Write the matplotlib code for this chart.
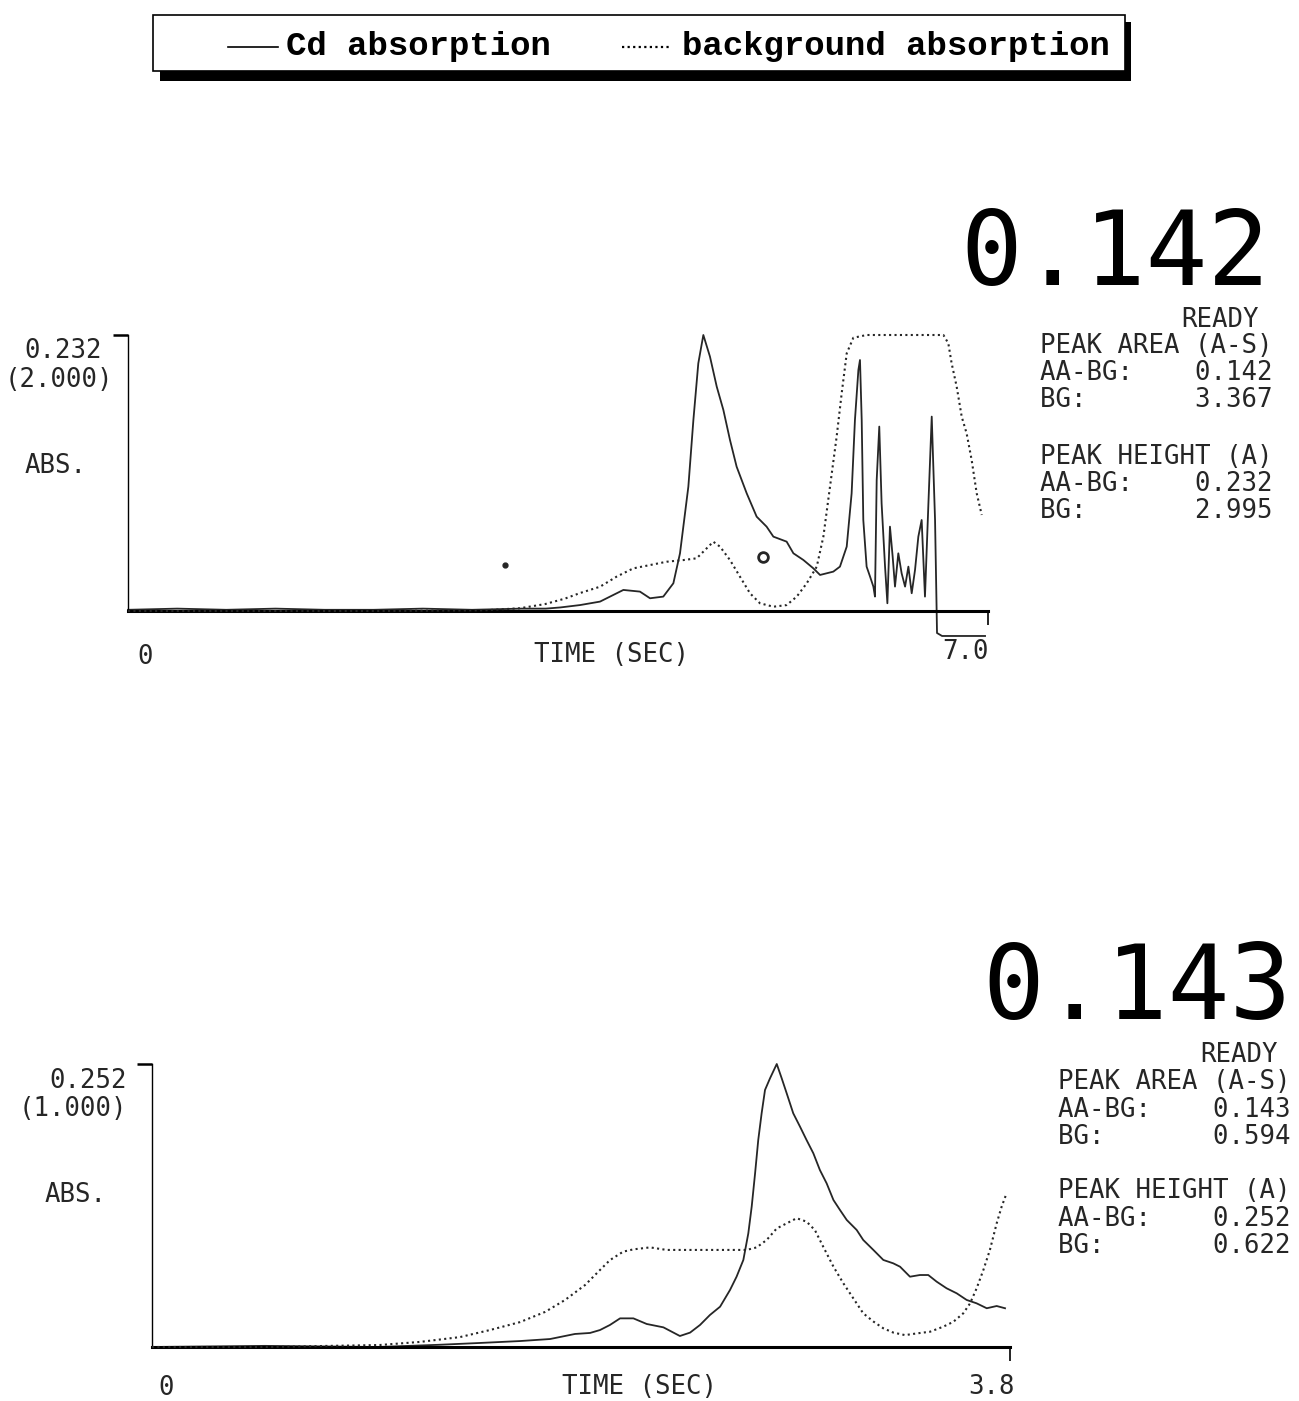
import matplotlib
matplotlib.use("Agg")
from matplotlib import pyplot as plt
from matplotlib.patches import Rectangle
from matplotlib.lines import Line2D

W, H = 1299, 1401

# run 1: time (s), Cd absorbance (A), background absorbance (A)
cd1_t = [0.0, 0.4, 0.8, 1.2, 1.6, 2.0, 2.4, 2.8, 3.2, 3.4, 3.52, 3.68, 3.842,
         4.032, 4.167, 4.249, 4.357, 4.439, 4.493, 4.561, 4.602, 4.642, 4.683,
         4.737, 4.792, 4.846, 4.900, 4.954, 5.036, 5.117, 5.198, 5.253, 5.361,
         5.416, 5.497, 5.578, 5.633, 5.741, 5.795, 5.850, 5.890, 5.917, 5.945,
         5.958, 5.972, 5.985, 6.012, 6.040, 6.067, 6.080, 6.094, 6.115, 6.134,
         6.162, 6.181, 6.202, 6.224, 6.243, 6.270, 6.297, 6.325, 6.352, 6.379,
         6.406, 6.433, 6.460, 6.487, 6.514, 6.542, 6.555, 6.569, 6.582,
         6.585, 6.626, 6.976]
cd1_a = [0.001, 0.002, 0.001, 0.002, 0.001, 0.001, 0.002, 0.001, 0.002, 0.002,
         0.003, 0.005, 0.0079,
         0.0177, 0.0163, 0.0107, 0.0121, 0.0233, 0.0485, 0.1045, 0.1606, 0.2082, 0.232,
         0.2138, 0.1886, 0.1690, 0.1437, 0.1213, 0.0989, 0.0793, 0.0709, 0.0625, 0.0583,
         0.0485, 0.0429, 0.0359, 0.0303, 0.0331, 0.0373, 0.0541, 0.0989, 0.1606, 0.2026,
         0.2110, 0.1606, 0.0765, 0.0373, 0.0289, 0.0205, 0.0121, 0.1101, 0.1550, 0.0905,
         0.0373, 0.0065, 0.0709, 0.0457, 0.0205, 0.0485, 0.0317, 0.0205, 0.0373, 0.0149,
         0.0345, 0.0625, 0.0765, 0.0121, 0.0877, 0.1634, 0.1213, 0.0765, 0.0,
         -0.0185, -0.021, -0.021]
bg1_t = [0.0, 1.0, 2.0, 2.9, 3.19, 3.394, 3.557, 3.679, 3.842, 3.977, 4.113,
         4.249, 4.384, 4.520, 4.629, 4.710, 4.764, 4.819, 4.900, 4.981, 5.063,
         5.144, 5.253, 5.361, 5.443, 5.524, 5.606, 5.660, 5.714, 5.768, 5.809,
         5.850, 5.904, 6.012, 6.637, 6.677, 6.704, 6.745, 6.786, 6.826, 6.867,
         6.908, 6.949]
bg1_b = [0.0, 0.0, 0.0, 0.005, 0.02, 0.05, 0.09, 0.13, 0.176, 0.249, 0.309,
         0.333, 0.357, 0.369, 0.382, 0.454, 0.502, 0.466, 0.369, 0.249, 0.128,
         0.056, 0.031, 0.043, 0.104, 0.200, 0.321, 0.539, 0.901, 1.263, 1.577,
         1.867, 1.98, 2.0, 2.0, 1.940, 1.795, 1.626, 1.408, 1.287, 1.094,
         0.853, 0.696]
# stray printer marks on run 1
spots1_t = [3.069, 5.169]
spots1_a = [0.0387, 0.0454]

# run 2
cd2_t = [0.0, 0.5, 1.0, 1.275, 1.453, 1.630, 1.763, 1.873, 1.940, 1.984, 2.028,
         2.073, 2.132, 2.191, 2.265, 2.338, 2.383, 2.427, 2.471, 2.516, 2.560,
         2.589, 2.619, 2.641, 2.656, 2.671, 2.685, 2.700, 2.715, 2.737, 2.767,
         2.789, 2.811, 2.840, 2.870, 2.899, 2.929, 2.958, 2.988, 3.018, 3.047,
         3.077, 3.121, 3.150, 3.195, 3.239, 3.283, 3.313, 3.357, 3.401, 3.438,
         3.475, 3.519, 3.564, 3.608, 3.652, 3.697, 3.741, 3.778]
cd2_a = [0.0, 0.001, 0.0, 0.002, 0.0036, 0.0053, 0.0071, 0.0116, 0.0125, 0.0151,
         0.0196, 0.0255, 0.0255, 0.0205, 0.0175, 0.0098, 0.0128, 0.0196, 0.0285,
         0.0359, 0.0508, 0.0626, 0.0775, 0.1012, 0.1250, 0.1546, 0.1843, 0.2081,
         0.2289, 0.2392, 0.252, 0.2392, 0.2259, 0.2081, 0.1962, 0.1843, 0.1725,
         0.1576, 0.1457, 0.1309, 0.1220, 0.1131, 0.1042, 0.0953, 0.0864, 0.0775,
         0.0745, 0.0715, 0.0626, 0.0641, 0.0641, 0.0582, 0.0523, 0.0478, 0.0419,
         0.0389, 0.0345, 0.0365, 0.0345]
bg2_t = [0.0, 0.5, 1.008, 1.187, 1.364, 1.497, 1.630, 1.741, 1.829, 1.918,
         1.984, 2.028, 2.087, 2.132, 2.206, 2.279, 2.427, 2.545, 2.634, 2.678,
         2.722, 2.767, 2.811, 2.855, 2.899, 2.936, 2.973, 3.018, 3.062, 3.106,
         3.150, 3.195, 3.239, 3.283, 3.335, 3.387, 3.446, 3.505, 3.549, 3.593,
         3.623, 3.652, 3.682, 3.711, 3.741, 3.763, 3.782]
bg2_b = [0.0, 0.0, 0.007, 0.018, 0.035, 0.060, 0.088, 0.124, 0.166, 0.219,
         0.272, 0.307, 0.337, 0.345, 0.352, 0.343, 0.343, 0.343, 0.343, 0.352,
         0.378, 0.419, 0.437, 0.455, 0.443, 0.413, 0.354, 0.284, 0.225, 0.172,
         0.119, 0.090, 0.066, 0.051, 0.042, 0.048, 0.054, 0.072, 0.089, 0.119,
         0.154, 0.207, 0.272, 0.343, 0.437, 0.496, 0.537]

# instrument readouts
runs = [
    {"big": "0.142", "cd_scale": 0.232, "bg_scale": 2.000, "tmax": 7.0,
     "area": ("0.142", "3.367"), "height": ("0.232", "2.995")},
    {"big": "0.143", "cd_scale": 0.252, "bg_scale": 1.000, "tmax": 3.8,
     "area": ("0.143", "0.594"), "height": ("0.252", "0.622")},
]

MONO = "DejaVu Sans Mono"
INK = "#262626"
FS = 18.5

fig = plt.figure(figsize=(W / 100, H / 100), dpi=100)


def ftext(x, y, s, **kw):
    # place text using pixel positions of the page
    kw.setdefault("family", MONO)
    kw.setdefault("color", INK)
    kw.setdefault("va", "center")
    kw.setdefault("fontsize", FS)
    fig.text(x / W, 1 - y / H, s, **kw)


def make_axes(left, right, top, bottom, run):
    ax = fig.add_axes([left / W, 1 - bottom / H, (right - left) / W, (bottom - top) / H])
    ax.set_xlim(0, run["tmax"])
    ax.set_ylim(0, run["cd_scale"])
    for s in ["top", "right"]:
        ax.spines[s].set_visible(False)
    ax.spines["left"].set_linewidth(1.0)
    ax.spines["left"].set_linestyle((0, (6, 1)))
    ax.spines["bottom"].set_linewidth(2.2)
    ax.set_yticks([run["cd_scale"]])
    ax.set_xticks([run["tmax"]])
    ax.tick_params(axis="y", length=11, width=1.8, direction="out", labelleft=False)
    ax.tick_params(axis="x", length=10, width=1.2, direction="out", labelbottom=False)
    ax.patch.set_visible(False)
    bx = ax.twinx()
    bx.set_ylim(0, run["bg_scale"])
    bx.axis("off")
    return ax, bx


# ---- legend box
fig.patches.append(Rectangle((160 / W, 1 - 81 / H), 971 / W, 59 / H,
                             transform=fig.transFigure, facecolor="black", zorder=1))
fig.patches.append(Rectangle((153 / W, 1 - 71 / H), 972 / W, 56 / H,
                             transform=fig.transFigure, facecolor="white",
                             edgecolor="black", linewidth=1.2, zorder=2))
fig.lines.append(Line2D([228 / W, 278 / W], [1 - 47 / H] * 2, transform=fig.transFigure,
                        color="black", linewidth=1.2, zorder=3))
fig.lines.append(Line2D([622 / W, 672 / W], [1 - 47 / H] * 2, transform=fig.transFigure,
                        color="black", linewidth=1.6, linestyle=(0, (1, 1.5)), zorder=3))
ftext(286, 47, "Cd absorption", family="Liberation Mono", weight="bold",
      fontsize=24.5, color="black", zorder=4)
ftext(682, 47, "background absorption", family="Liberation Mono", weight="bold",
      fontsize=24.5, color="black", zorder=4)

# ---- run 1
ax1, bx1 = make_axes(128, 988, 335, 611, runs[0])
ax1.plot(cd1_t, cd1_a, color=INK, linewidth=1.3, clip_on=False)
bx1.plot(bg1_t, bg1_b, color=INK, linewidth=1.5, linestyle=(0, (1, 1.6)), clip_on=False)
ax1.plot(spots1_t[:1], spots1_a[:1], "o", color=INK, markersize=3.5)
ax1.plot(spots1_t[1:], spots1_a[1:], "o", mfc="white", mec=INK, mew=2, markersize=7)

ftext(102, 351, "0.232", ha="right")
ftext(113, 380, "(2.000)", ha="right")
ftext(25, 466, "ABS.")
ftext(145, 657, "0", ha="center")
ftext(611, 655, "TIME (SEC)", ha="center")
ftext(966, 652, "7.0", ha="center")

ftext(1115, 256, runs[0]["big"], ha="center", fontsize=74, color="black")
ftext(1259, 320, "READY", ha="right")
ftext(1040, 346, "PEAK AREA (A-S)")
ftext(1040, 373, "AA-BG:    " + runs[0]["area"][0])
ftext(1040, 400, "BG:       " + runs[0]["area"][1])
ftext(1040, 457, "PEAK HEIGHT (A)")
ftext(1040, 484, "AA-BG:    " + runs[0]["height"][0])
ftext(1040, 511, "BG:       " + runs[0]["height"][1])

# ---- run 2
ax2, bx2 = make_axes(152, 1010, 1064, 1347, runs[1])
ax2.plot(cd2_t, cd2_a, color=INK, linewidth=1.3, clip_on=False)
bx2.plot(bg2_t, bg2_b, color=INK, linewidth=1.5, linestyle=(0, (1, 1.6)), clip_on=False)

ftext(127, 1081, "0.252", ha="right")
ftext(127, 1109, "(1.000)", ha="right")
ftext(45, 1195, "ABS.")
ftext(166, 1388, "0", ha="center")
ftext(640, 1387, "TIME (SEC)", ha="center")
ftext(992, 1387, "3.8", ha="center")

ftext(1137, 990, runs[1]["big"], ha="center", fontsize=74, color="black")
ftext(1278, 1055, "READY", ha="right")
ftext(1058, 1082, "PEAK AREA (A-S)")
ftext(1058, 1110, "AA-BG:    " + runs[1]["area"][0])
ftext(1058, 1137, "BG:       " + runs[1]["area"][1])
ftext(1058, 1191, "PEAK HEIGHT (A)")
ftext(1058, 1219, "AA-BG:    " + runs[1]["height"][0])
ftext(1058, 1246, "BG:       " + runs[1]["height"][1])

fig.savefig("out.png", dpi=100, facecolor="white")
